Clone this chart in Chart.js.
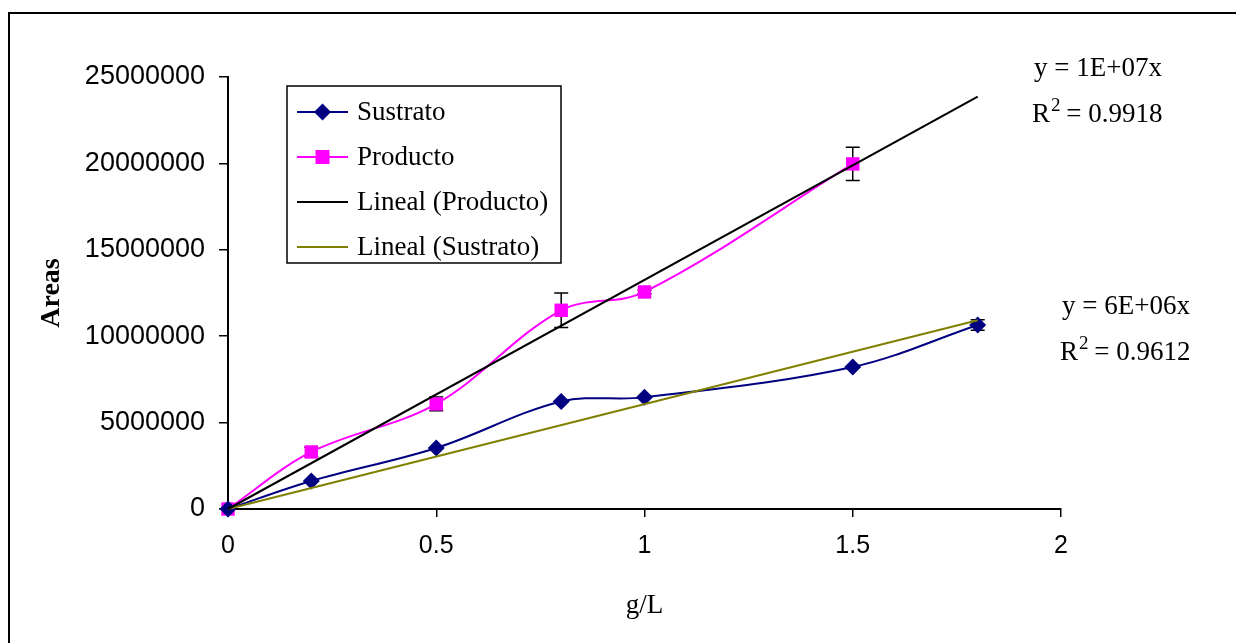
<!DOCTYPE html>
<html>
<head>
<meta charset="utf-8">
<script src="https://cdn.jsdelivr.net/npm/chart.js@4.4.0/dist/chart.umd.min.js"></script>
<style>
  body { margin: 0; background: #fff; }
  #wrap { position: relative; width: 1236px; height: 643px; }
  #frame { position: absolute; left: 8px; top: 12px; width: 1240px; height: 640px; border: 2px solid #000; pointer-events: none; }
</style>
</head>
<body>
<div id="wrap">
  <canvas id="chart"></canvas>
  <div id="frame"></div>
</div>
<script>
// concentrations (g/L)
const concSustrato = [0, 0.2, 0.5, 0.8, 1.0, 1.5, 1.8];
const concProducto = [0, 0.2, 0.5, 0.8, 1.0, 1.5];
// peak areas
const areaSustrato = [0, 1620000, 3530000, 6220000, 6460000, 8220000, 10650000];
const areaProducto = [0, 3300000, 6080000, 11500000, 12560000, 19970000];
// error bars (+/-)
const errSustrato = [0, 0, 0, 0, 0, 0, 300000];
const errProducto = [0, 280000, 400000, 1000000, 100000, 960000];
const xTicks = [0, 0.5, 1, 1.5, 2];
const yTicks = [0, 5000000, 10000000, 15000000, 20000000, 25000000];
const trendEnd = 1.8;
const eqProducto = ['y = 1E+07x', '0.9918'];
const eqSustrato = ['y = 6E+06x', '0.9612'];

// linear trend through the origin (Excel "set intercept = 0")
const slopeOf = (xs, ys) => {
  let sxy = 0, sxx = 0;
  xs.forEach((x, i) => { sxy += x * ys[i]; sxx += x * x; });
  return sxy / sxx;
};
const pts = (xs, ys) => xs.map((x, i) => ({ x: x, y: ys[i] }));
const trend = (xs, ys) => [{ x: 0, y: 0 }, { x: trendEnd, y: slopeOf(xs, ys) * trendEnd }];

const SANS = '"Liberation Sans", Arial, sans-serif';
const SERIF = '"Liberation Serif", "Times New Roman", serif';

const errorBars = {
  id: 'errorBars',
  beforeDatasetsDraw(chart) {
    const { ctx, scales: { x, y } } = chart;
    ctx.save();
    ctx.strokeStyle = '#000';
    ctx.lineWidth = 1.5;
    chart.data.datasets.forEach((ds) => {
      if (!ds.errors) return;
      ds.data.forEach((p, i) => {
        const e = ds.errors[i];
        if (!e) return;
        const px = x.getPixelForValue(p.x);
        const top = y.getPixelForValue(p.y + e);
        const bot = y.getPixelForValue(p.y - e);
        ctx.beginPath();
        ctx.moveTo(px, top); ctx.lineTo(px, bot);
        ctx.moveTo(px - 7, top); ctx.lineTo(px + 7, top);
        ctx.moveTo(px - 7, bot); ctx.lineTo(px + 7, bot);
        ctx.stroke();
      });
    });
    ctx.restore();
  },
};

const drawMarker = (ctx, style, color, cx, cy) => {
  ctx.fillStyle = color;
  ctx.beginPath();
  if (style === 'rectRot') {
    ctx.moveTo(cx, cy - 8.5); ctx.lineTo(cx + 8.5, cy); ctx.lineTo(cx, cy + 8.5); ctx.lineTo(cx - 8.5, cy);
  } else {
    ctx.rect(cx - 7, cy - 7, 14, 14);
  }
  ctx.closePath();
  ctx.fill();
};

const boxLegend = {
  id: 'boxLegend',
  afterDraw(chart) {
    const ctx = chart.ctx;
    ctx.save();
    ctx.fillStyle = '#fff';
    ctx.fillRect(287, 86, 274, 177);
    ctx.strokeStyle = '#000';
    ctx.lineWidth = 1.5;
    ctx.strokeRect(287, 86, 274, 177);
    ctx.font = '27px ' + SERIF;
    ctx.textBaseline = 'middle';
    [0, 1, 2, 3].forEach((idx, row) => {
      const ds = chart.data.datasets[idx];
      const cy = 112 + row * 45;
      ctx.strokeStyle = ds.borderColor;
      ctx.lineWidth = 2;
      ctx.beginPath();
      ctx.moveTo(297, cy); ctx.lineTo(348, cy);
      ctx.stroke();
      if (ds.pointRadius) drawMarker(ctx, ds.pointStyle, ds.backgroundColor, 322.5, cy);
      ctx.fillStyle = '#000';
      ctx.fillText(ds.label, 357, cy + 1);
    });
    ctx.restore();
  },
};

const drawEquation = (ctx, eq, x, y) => {
  ctx.font = '27px ' + SERIF;
  ctx.fillText(eq[0], x + 2, y);
  const y2 = y + 46;
  ctx.fillText('R', x, y2);
  let w = ctx.measureText('R').width;
  ctx.font = '19px ' + SERIF;
  ctx.fillText('2', x + w + 1, y2 - 11);
  w += ctx.measureText('2').width;
  ctx.font = '27px ' + SERIF;
  ctx.fillText(' = ' + eq[1], x + w, y2);
};

const equations = {
  id: 'equations',
  afterDraw(chart) {
    const ctx = chart.ctx;
    ctx.save();
    ctx.fillStyle = '#000';
    ctx.textBaseline = 'alphabetic';
    drawEquation(ctx, eqProducto, 1032, 76);
    drawEquation(ctx, eqSustrato, 1060, 314);
    ctx.restore();
  },
};

new Chart(document.getElementById('chart'), {
  type: 'scatter',
  data: {
    datasets: [
      {
        label: 'Sustrato',
        data: pts(concSustrato, areaSustrato),
        errors: errSustrato,
        showLine: true,
        tension: 0.35,
        borderColor: '#000080',
        backgroundColor: '#000080',
        borderWidth: 2,
        pointStyle: 'rectRot',
        pointRadius: 8.5,
        pointBorderWidth: 0,
        clip: false,
        order: 2,
      },
      {
        label: 'Producto',
        data: pts(concProducto, areaProducto),
        errors: errProducto,
        showLine: true,
        tension: 0.35,
        borderColor: '#ff00ff',
        backgroundColor: '#ff00ff',
        borderWidth: 2,
        pointStyle: 'rect',
        pointRadius: 9.5,
        pointBorderWidth: 0,
        clip: false,
        order: 2,
      },
      {
        label: 'Lineal (Producto)',
        data: trend(concProducto, areaProducto),
        showLine: true,
        borderColor: '#000000',
        backgroundColor: '#000000',
        borderWidth: 2,
        pointRadius: 0,
        clip: false,
        order: 1,
      },
      {
        label: 'Lineal (Sustrato)',
        data: trend(concSustrato, areaSustrato),
        showLine: true,
        borderColor: '#808000',
        backgroundColor: '#808000',
        borderWidth: 2,
        pointRadius: 0,
        clip: false,
        order: 1,
      },
    ],
  },
  options: {
    responsive: true,
    maintainAspectRatio: false,
    animation: false,
    layout: { padding: { left: 8, top: 77, right: 175, bottom: 0 } },
    plugins: {
      legend: { display: false },
      tooltip: { enabled: false },
    },
    scales: {
      x: {
        type: 'linear',
        min: 0,
        max: 2,
        afterBuildTicks: (s) => { s.ticks = xTicks.map((v) => ({ value: v })); },
        afterFit: (s) => { s.height = 134; },
        grid: { display: true, drawOnChartArea: false, drawTicks: true, tickLength: 8, color: '#000', lineWidth: 1.5 },
        border: { display: true, color: '#000', width: 2 },
        ticks: { color: '#000', font: { family: SANS, size: 25 }, padding: 14, maxRotation: 0, callback: (v) => String(v) },
        title: { display: true, text: 'g/L', color: '#000', font: { family: SERIF, size: 27 }, padding: { top: 0, bottom: 21 } },
      },
      y: {
        type: 'linear',
        min: 0,
        max: 25000000,
        afterBuildTicks: (s) => { s.ticks = yTicks.map((v) => ({ value: v })); },
        afterFit: (s) => { s.width = 220; },
        grid: { display: true, drawOnChartArea: false, drawTicks: true, tickLength: 9, color: '#000', lineWidth: 1.5 },
        border: { display: true, color: '#000', width: 2 },
        ticks: { color: '#000', font: { family: SANS, size: 27 }, padding: 14, callback: (v) => String(v) },
        title: { display: true, text: 'Areas', color: '#000', font: { family: SERIF, size: 28, weight: 'bold' }, padding: { top: 27, bottom: 0 } },
      },
    },
  },
  plugins: [errorBars, boxLegend, equations],
});
</script>
</body>
</html>
